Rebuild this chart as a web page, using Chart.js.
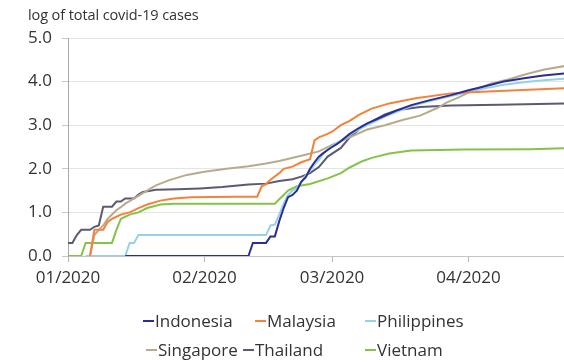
<!DOCTYPE html>
<html>
<head>
<meta charset="utf-8">
<script src="https://cdn.jsdelivr.net/npm/chart.js@4/dist/chart.umd.min.js"></script>
<style>
  html, body { margin: 0; padding: 0; background: #fff; }
  #wrap { position: relative; width: 564px; height: 362px; overflow: hidden;
          font-family: "Open Sans", sans-serif; color: #333; }
  #c { position: absolute; left: 0; top: 0; }
  #title { position: absolute; left: 28px; top: 5px; font-size: 14.5px; line-height: 20px; color: #333; white-space: nowrap; letter-spacing: -0.1px; }
  .leg { position: absolute; font-size: 17px; line-height: 20px; display: flex; align-items: center; white-space: nowrap; color: #333; }
  .leg i { display: inline-block; width: 11px; height: 2px; margin-right: 1px; }
</style>
</head>
<body>
<div id="wrap">
  <canvas id="c" width="564" height="362"></canvas>
  <div id="title">log of total covid-19 cases</div>
  <div id="legend"></div>
</div>
<script>
// Day index counted from 1 January 2020; values are log10 of cumulative cases.
const monthStartDays = [0, 31, 60, 91];
const monthLabels = ['01/2020', '02/2020', '03/2020', '04/2020'];
const yTicks = [0, 1, 2, 3, 4, 5];

const countries = ['Indonesia', 'Malaysia', 'Philippines', 'Singapore', 'Thailand', 'Vietnam'];

const indonesia = [[13,0],[41,0],[42,0.3],[45,0.3],[46,0.45],[47,0.45],[48,0.8],[49,1.1],[50,1.35],[51,1.4],[52,1.5],[53,1.7],[54,1.8],[55,2.0],[56,2.15],[57,2.28],[58,2.36],[59,2.43],[60,2.5],[61,2.56],[62,2.63],[63,2.72],[64,2.8],[66,2.93],[68,3.04],[70,3.13],[72,3.22],[75,3.35],[78,3.46],[82,3.57],[87,3.69],[91,3.8],[95,3.9],[99,4.0],[104,4.08],[108,4.14],[113,4.19]];

const malaysia = [[5,0],[6,0.6],[8,0.6],[9,0.78],[10,0.85],[11,0.9],[12,0.95],[14,1.0],[16,1.1],[18,1.18],[21,1.27],[24,1.32],[28,1.35],[38,1.36],[43,1.36],[44,1.6],[45,1.65],[46,1.75],[48,1.9],[49,2.0],[51,2.05],[53,2.15],[55,2.22],[56,2.65],[57,2.72],[59,2.8],[60,2.85],[62,3.0],[64,3.1],[66,3.23],[69,3.38],[73,3.5],[79,3.62],[87,3.73],[94,3.77],[102,3.8],[113,3.85]];

const philippines = [[4,0],[13,0],[14,0.3],[15,0.3],[16,0.48],[45,0.48],[46,0.7],[47,0.72],[48,0.95],[49,1.2],[50,1.4],[51,1.5],[52,1.55],[53,1.7],[54,1.85],[55,1.95],[56,2.1],[57,2.2],[58,2.35],[59,2.45],[60,2.52],[62,2.65],[64,2.78],[66,2.9],[68,3.0],[70,3.1],[72,3.2],[75,3.32],[78,3.44],[82,3.55],[87,3.67],[91,3.76],[95,3.85],[99,3.93],[104,3.99],[108,4.03],[113,4.07]];

const singapore = [[5,0],[6,0.48],[7,0.6],[8,0.7],[9,0.85],[10,0.95],[11,1.05],[12,1.12],[13,1.2],[14,1.26],[15,1.32],[16,1.38],[17,1.44],[18,1.5],[19,1.56],[20,1.62],[23,1.74],[27,1.86],[31,1.93],[36,2.0],[41,2.06],[45,2.12],[48,2.18],[53,2.3],[57,2.4],[60,2.55],[64,2.72],[68,2.9],[72,3.0],[76,3.12],[80,3.22],[84,3.4],[86,3.52],[89,3.65],[92,3.8],[96,3.95],[100,4.05],[104,4.17],[108,4.27],[113,4.36]];

const thailand = [[0,0.3],[1,0.3],[2,0.48],[3,0.6],[5,0.6],[6,0.67],[7,0.7],[8,1.13],[10,1.13],[11,1.25],[12,1.25],[13,1.32],[15,1.32],[16,1.41],[17,1.47],[19,1.5],[20,1.52],[25,1.53],[30,1.55],[35,1.58],[41,1.64],[45,1.66],[48,1.72],[51,1.76],[53,1.82],[55,1.9],[57,2.04],[59,2.28],[62,2.48],[64,2.72],[67,2.98],[69,3.08],[72,3.25],[75,3.35],[80,3.42],[87,3.45],[98,3.47],[113,3.5]];

const vietnam = [[0,0],[3,0],[4,0.3],[10,0.3],[11,0.6],[12,0.85],[13,0.9],[14,0.95],[16,1.0],[18,1.1],[21,1.18],[24,1.2],[47,1.2],[48,1.3],[49,1.4],[50,1.5],[52,1.6],[55,1.65],[59,1.78],[62,1.9],[64,2.03],[67,2.18],[69,2.25],[73,2.35],[78,2.42],[90,2.44],[105,2.45],[113,2.47]];

const seriesValues = [indonesia, malaysia, philippines, singapore, thailand, vietnam];
const seriesColors = ['#2b2f94', '#f4823a', '#97d0ea', '#b9aa8c', '#5a5b73', '#84c347'];

// Legend slots: [left, row]
const legendSlots = [[143, 0], [255, 0], [365, 0], [146, 1], [243, 1], [365, 1]];
const legendRowTop = [311, 340];

const FONT = '"Open Sans", sans-serif';

const datasets = countries.map((name, i) => ({
  label: name,
  data: seriesValues[i].map(([x, y]) => ({ x, y })),
  borderColor: seriesColors[i],
  backgroundColor: seriesColors[i],
  borderWidth: 2,
  pointRadius: 0,
  tension: 0,
  fill: false
}));

new Chart(document.getElementById('c'), {
  type: 'line',
  data: { datasets },
  options: {
    responsive: false,
    animation: false,
    devicePixelRatio: 1,
    layout: { padding: { top: 38, left: 0, right: 0, bottom: 0 } },
    plugins: { legend: { display: false }, tooltip: { enabled: false }, title: { display: false } },
    scales: {
      x: {
        type: 'linear',
        min: 0,
        max: 112.7,
        afterFit(s) { s.height = 106; },
        afterBuildTicks(s) { s.ticks = monthStartDays.map(v => ({ value: v })); },
        ticks: {
          autoSkip: false, maxRotation: 0, padding: 6,
          color: '#333', font: { family: FONT, size: 17 },
          callback: (v, i) => monthLabels[i]
        },
        grid: { drawOnChartArea: false, drawTicks: true, tickLength: 6, tickColor: '#b5b5b5' },
        border: { display: true, color: '#c4c4c4', width: 1 }
      },
      y: {
        min: 0,
        max: 5,
        afterFit(s) { s.width = 68; },
        afterBuildTicks(s) { s.ticks = yTicks.map(v => ({ value: v })); },
        ticks: {
          padding: 10, color: '#333', font: { family: FONT, size: 17 },
          callback: v => v.toFixed(1)
        },
        grid: { color: '#e4e4e4', lineWidth: 1, tickLength: 6, tickColor: '#c8c8c8' },
        border: { display: true, color: '#a9a9a9', width: 1 }
      }
    }
  }
});

// Legend built from the series names and colours
const legend = document.getElementById('legend');
countries.forEach((name, i) => {
  const d = document.createElement('div');
  d.className = 'leg';
  d.style.left = legendSlots[i][0] + 'px';
  d.style.top = legendRowTop[legendSlots[i][1]] + 'px';
  const sw = document.createElement('i');
  sw.style.background = seriesColors[i];
  d.appendChild(sw);
  d.appendChild(document.createTextNode(name));
  legend.appendChild(d);
});
</script>
</body>
</html>
